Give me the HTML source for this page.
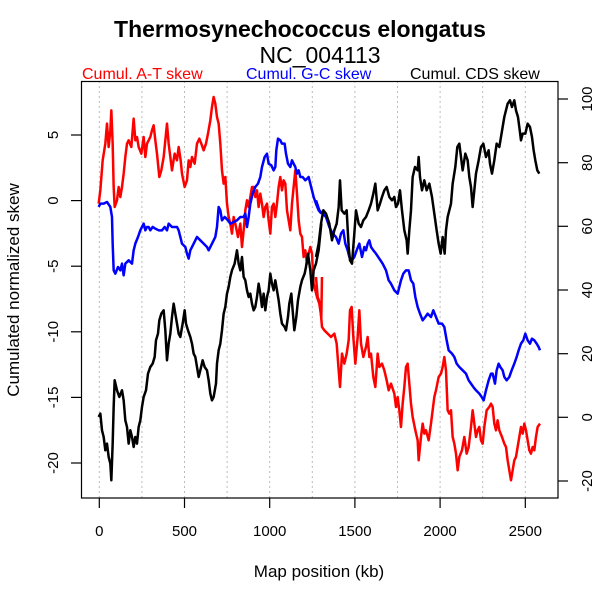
<!DOCTYPE html>
<html><head><meta charset="utf-8"><style>html,body{margin:0;padding:0;background:#fff}</style></head>
<body>
<svg width="600" height="600" xmlns="http://www.w3.org/2000/svg" font-family="Liberation Sans, sans-serif">
<rect width="600" height="600" fill="#fff"/>
<text x="300" y="37" text-anchor="middle" font-size="23" font-weight="bold">Thermosynechococcus elongatus</text>
<text x="320" y="63" text-anchor="middle" font-size="23">NC_004113</text>
<text x="82" y="79" font-size="16" fill="#f00">Cumul. A-T skew</text>
<text x="246" y="79" font-size="16" fill="#00f">Cumul. G-C skew</text>
<text x="410" y="79" font-size="16" fill="#000">Cumul. CDS skew</text>
<g stroke="#bbb" stroke-dasharray="2,3" stroke-width="1">
<line x1="99.3" y1="81" x2="99.3" y2="498"/><line x1="141.9" y1="81" x2="141.9" y2="498"/><line x1="184.5" y1="81" x2="184.5" y2="498"/><line x1="227.1" y1="81" x2="227.1" y2="498"/><line x1="269.7" y1="81" x2="269.7" y2="498"/><line x1="312.3" y1="81" x2="312.3" y2="498"/><line x1="354.9" y1="81" x2="354.9" y2="498"/><line x1="397.5" y1="81" x2="397.5" y2="498"/><line x1="440.1" y1="81" x2="440.1" y2="498"/><line x1="482.7" y1="81" x2="482.7" y2="498"/><line x1="525.3" y1="81" x2="525.3" y2="498"/>
</g>
<g fill="none" stroke-width="7.5" stroke-linejoin="round">
<g transform="translate(82,77) scale(0.3333)">
<polyline stroke="#f00" points="50,380 55,340 62,250 70,200 75,140 80,210 85,160 88,100 92,200 95,330 98,390 105,370 110,330 115,360 120,330 125,290 130,240 135,200 140,190 148,210 155,125 160,190 165,180 170,210 178,230 185,180 190,240 195,200 205,180 210,160 215,145 220,190 225,230 232,300 238,280 245,240 250,190 255,140 260,200 265,240 270,280 278,230 285,250 290,210 296,250 300,290 308,330 315,310 320,250 325,270 330,240 338,260 345,200 352,185 358,200 365,220 372,200 378,170 385,130 390,90 395,60 400,80 405,120 410,140 415,200 420,280 425,320 430,300 435,380 440,420 445,440 450,470 455,420 460,440 468,480 475,440 480,510 486,450 490,400 495,370 500,390 505,360 510,330 515,330 520,360 525,340 530,390 535,350 540,380 545,420 550,390 555,380 560,430 565,470 570,390 575,380 580,420 585,380 590,330 595,300 600,340 605,310 610,320 615,400 620,430 625,460 630,380 635,330 640,280 645,350 650,430 655,470 660,480 665,540 670,520 675,560 680,530 685,510 690,530 695,620 700,640 705,660 712,680 718,720 720,600"/>
<polyline stroke="#00f" points="50,390 55,380 65,380 75,375 85,390 90,420 92,500 95,580 100,590 108,570 115,580 120,560 125,595 130,560 140,550 150,560 155,520 160,500 168,480 175,460 180,450 185,440 190,460 195,450 200,450 205,460 212,450 220,455 230,460 240,460 248,450 255,460 260,440 270,450 278,450 285,450 290,460 295,480 300,500 310,510 315,530 320,545 325,520 335,500 345,480 355,490 365,500 375,510 380,520 390,500 400,480 405,450 410,390 415,400 420,430 428,420 438,430 445,440 455,435 465,430 475,420 485,420 490,410 495,450 500,420 505,380 512,350 520,330 528,320 535,300 540,270 548,240 555,230 560,260 568,265 575,280 580,270 583,220 588,185 595,190 600,200 608,200 612,230 618,260 625,270 630,250 635,260 640,270 645,290 650,280 655,300 662,300 670,310 680,300 685,320 690,340 695,360 702,380 710,400 718,410"/>
<polyline stroke="#000" points="50,1020 55,1010 60,1060 65,1080 70,1120 75,1100 80,1140 85,1160 88,1210 92,1100 95,990 98,910 105,940 112,960 120,940 125,970 130,1030 135,1050 140,1100 145,1060 150,1080 155,1110 160,1080 165,1100 170,1050 175,1030 180,990 185,960 192,940 198,890 205,870 212,860 218,840 222,790 228,770 232,730 238,710 245,700 250,760 255,850 260,800 265,770 270,720 275,680 280,710 285,740 290,770 295,780 302,740 308,700 312,740 318,760 325,780 330,800 335,830 340,840 345,870 350,900 355,880 362,850 368,870 375,880 380,910 385,950 390,970 395,960 402,920 405,860 410,820 415,800 420,760 425,710 430,690 435,650 440,630 445,600 450,580 458,560 465,520 470,560 475,580 480,540 485,600 490,610 495,640 500,660 505,650 510,680 515,700 520,690 525,660 530,620 535,650 540,690 545,650 550,700 555,660 560,640 565,590 570,620 575,640 580,610 585,640 590,670 595,710 600,740 608,750 612,760 618,720 622,680 628,650 632,700 637,760 643,720 648,670 655,630 660,610 668,590 672,570 678,530 685,580 690,640 695,580 702,560 710,520 718,440"/>
</g>
<g transform="translate(316,77) scale(0.3333)">
<polyline stroke="#f00" points="0,600 5,660 12,680 18,750 25,760 35,770 45,780 55,770 62,800 68,880 72,930 78,830 85,860 92,830 98,790 102,700 107,690 112,780 118,860 125,780 130,700 135,800 142,840 150,810 155,780 160,840 165,830 172,900 178,930 185,830 190,870 198,860 205,880 212,910 218,940 225,920 235,950 240,990 245,960 250,1000 255,1050 260,980 265,930 270,870 275,860 280,920 285,980 290,1020 298,1060 305,1090 308,1150 315,1080 320,1040 325,1070 330,1060 338,1090 345,1040 350,1000 355,960 360,940 368,900 375,890 380,870 385,840 390,880 395,1000 400,1010 405,1000 410,1080 415,1100 420,1130 425,1180 430,1140 438,1120 445,1080 452,1130 458,1110 465,1050 470,1000 475,1040 480,1080 485,1060 490,1050 495,1090 500,1100 505,1050 512,1000 520,990 525,980 530,990 535,1040 540,1060 545,1030 550,1060 558,1080 565,1100 570,1110 575,1150 580,1180 585,1210 590,1180 595,1150 600,1140 605,1110 610,1080 615,1050 620,1070 625,1040 630,1060 635,1090 640,1120 645,1130 650,1110 655,1120 660,1080 665,1050 672,1040"/>
<polyline stroke="#00f" points="0,370 10,400 20,410 30,420 40,450 50,470 60,480 68,500 75,470 82,460 88,500 95,520 100,540 108,550 115,540 122,520 130,500 138,540 145,510 150,520 155,500 160,490 165,510 172,520 180,530 190,545 200,560 210,580 218,610 225,620 235,640 245,650 255,610 262,590 270,580 278,580 285,610 292,620 298,660 305,690 312,710 320,730 328,720 335,710 345,720 352,700 360,720 368,740 378,740 385,750 392,790 398,820 408,830 415,840 422,860 430,870 440,880 450,890 458,910 465,920 472,930 480,940 490,950 497,960 503,970 510,940 518,910 525,890 530,890 537,920 542,880 548,860 553,870 560,880 565,900 572,910 580,900 587,880 595,860 602,840 608,820 615,800 622,790 628,770 635,790 642,800 648,785 655,790 662,800 668,810 672,820"/>
<polyline stroke="#000" points="0,540 8,500 15,440 22,400 30,410 40,440 48,490 55,460 62,440 68,390 72,310 77,400 85,410 92,400 98,510 102,550 108,560 115,470 120,400 128,440 135,450 142,430 150,420 158,400 165,380 172,350 178,320 185,400 192,380 198,360 205,340 212,330 220,360 228,370 235,360 240,390 246,380 252,340 258,400 265,460 272,490 275,530 280,460 285,400 290,300 297,270 305,280 308,240 312,300 318,340 325,310 332,340 340,320 348,360 355,410 362,460 368,500 374,530 380,480 386,530 390,460 395,420 400,400 405,380 410,320 418,270 424,210 430,200 435,240 440,280 448,230 455,250 460,300 465,330 470,390 475,340 480,290 488,250 495,210 502,200 510,240 518,220 522,260 528,290 535,250 542,200 550,210 555,180 560,150 565,120 570,100 575,80 582,70 588,90 595,70 600,100 606,120 610,150 615,190 620,170 628,170 635,140 642,150 648,180 653,220 658,250 664,280 670,290"/>
</g>
</g>
<rect x="81.5" y="81.5" width="476.5" height="416.5" fill="none" stroke="#000" stroke-width="1.2"/>
<g stroke="#000" stroke-width="1.2">
<line x1="99.3" y1="498" x2="99.3" y2="508"/><line x1="184.5" y1="498" x2="184.5" y2="508"/><line x1="269.7" y1="498" x2="269.7" y2="508"/><line x1="354.9" y1="498" x2="354.9" y2="508"/><line x1="440.1" y1="498" x2="440.1" y2="508"/><line x1="525.3" y1="498" x2="525.3" y2="508"/>
<line x1="71" y1="135" x2="81.5" y2="135"/><line x1="71" y1="200.6" x2="81.5" y2="200.6"/><line x1="71" y1="266.2" x2="81.5" y2="266.2"/><line x1="71" y1="331.8" x2="81.5" y2="331.8"/><line x1="71" y1="397.4" x2="81.5" y2="397.4"/><line x1="71" y1="463" x2="81.5" y2="463"/>
<line x1="558" y1="99" x2="568" y2="99"/><line x1="558" y1="162.7" x2="568" y2="162.7"/><line x1="558" y1="226.3" x2="568" y2="226.3"/><line x1="558" y1="290" x2="568" y2="290"/><line x1="558" y1="353.7" x2="568" y2="353.7"/><line x1="558" y1="417.3" x2="568" y2="417.3"/><line x1="558" y1="481" x2="568" y2="481"/>
</g>
<g font-size="15" text-anchor="middle">
<text x="99.3" y="536">0</text><text x="184.5" y="536">500</text><text x="269.7" y="536">1000</text><text x="354.9" y="536">1500</text><text x="440.1" y="536">2000</text><text x="525.3" y="536">2500</text>
<text transform="translate(58,135) rotate(-90)">5</text><text transform="translate(58,200.6) rotate(-90)">0</text><text transform="translate(58,266.2) rotate(-90)">-5</text><text transform="translate(58,331.8) rotate(-90)">-10</text><text transform="translate(58,397.4) rotate(-90)">-15</text><text transform="translate(58,463) rotate(-90)">-20</text>
<text transform="translate(592,99) rotate(-90)">100</text><text transform="translate(592,162.7) rotate(-90)">80</text><text transform="translate(592,226.3) rotate(-90)">60</text><text transform="translate(592,290) rotate(-90)">40</text><text transform="translate(592,353.7) rotate(-90)">20</text><text transform="translate(592,417.3) rotate(-90)">0</text><text transform="translate(592,481) rotate(-90)">-20</text>
</g>
<text x="319" y="577" text-anchor="middle" font-size="17">Map position (kb)</text>
<text transform="translate(19,290) rotate(-90)" text-anchor="middle" font-size="17">Cumulated normalized skew</text>
</svg>
</body></html>
